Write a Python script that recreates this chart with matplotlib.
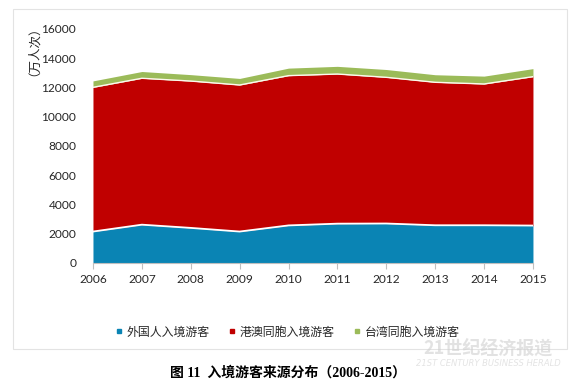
import numpy as np
import matplotlib.pyplot as plt
from matplotlib.patches import Rectangle
from matplotlib.lines import Line2D

# Datos (万人次)
anios = [2006, 2007, 2008, 2009, 2010, 2011, 2012, 2013, 2014, 2015]
extranjeros = [2150, 2620, 2400, 2150, 2570, 2690, 2700, 2580, 2580, 2560]
hk_macao = [9860, 10010, 10040, 10020, 10240, 10230, 9995, 9775, 9660, 10180]
taiwan = [441, 463, 439, 449, 514, 526, 534, 517, 537, 550]
series = ['外国人入境游客', '港澳同胞入境游客', '台湾同胞入境游客']
colores = ['#0A84B4', '#C00000', '#9BBB59']

plt.rcParams['font.family'] = ['Noto Sans CJK SC', 'DejaVu Sans']

fig = plt.figure(figsize=(5.8, 3.85), dpi=100)
ax = fig.add_axes([0.1603, 0.3169, 0.7586, 0.6078])

x = np.array(anios)
b1 = np.array(extranjeros)
b2 = b1 + np.array(hk_macao)
b3 = b2 + np.array(taiwan)

ax.fill_between(x, 0, b1, color=colores[0], lw=0)
ax.fill_between(x, b1, b2, color=colores[1], lw=0)
ax.fill_between(x, b2, b3, color=colores[2], lw=0)
ax.plot(x, b1, color='white', lw=1.3)
ax.plot(x, b2, color='#FFF8EE', lw=1.0)

ax.set_xlim(2006, 2015)
ax.set_ylim(0, 16000)
ax.set_yticks(range(0, 16001, 2000))
ax.set_xticks(anios)
for s in ['top', 'right', 'left']:
    ax.spines[s].set_visible(False)
ax.spines['bottom'].set_color('#BFBFBF')
ax.tick_params(axis='y', length=0, pad=12)
ax.tick_params(axis='x', length=4, color='#BFBFBF', pad=4)
for lab in ax.get_xticklabels() + ax.get_yticklabels():
    lab.set_family(['Lato', 'DejaVu Sans'])
    lab.set_fontsize(8.6)
    lab.set_color('#262626')

fig.text(27 / 580, 1 - 45 / 385, '（万人次）', rotation=90, ha='center', va='center',
         fontsize=9, color='#262626')

# Leyenda
handles = [Line2D([], [], marker='s', ls='', color=c, markersize=3.5) for c in colores]
fig.legend(handles, series, loc='center', bbox_to_anchor=(287 / 580, 1 - 332 / 385),
           ncol=3, frameon=False, fontsize=8.6, handletextpad=0.2, columnspacing=1.5,
           handlelength=0.8, labelcolor='#262626')

# Marco exterior
fig.add_artist(Rectangle((13 / 580, 1 - 349 / 385), 554 / 580, 340 / 385,
                         transform=fig.transFigure, fill=False, ec='#E3E3E3', lw=0.8))

fig.text(288 / 580, 1 - 373 / 385, '图 11  入境游客来源分布（2006-2015）', ha='center', va='center',
         fontsize=10, fontweight='bold', family=['Liberation Serif', 'Noto Sans CJK SC'])

# Marca de agua
fig.text(488 / 580, 1 - 348 / 385, '21世纪经济报道', ha='center', va='center',
         fontsize=13, fontweight='bold', color='#D0D0D0', alpha=0.6)
fig.text(488 / 580, 1 - 363 / 385, '21ST CENTURY BUSINESS HERALD', ha='center', va='center',
         fontsize=6, style='italic', color='#D8D8D8', alpha=0.7, family=['DejaVu Sans'])

fig.savefig('out.png', dpi=100)
